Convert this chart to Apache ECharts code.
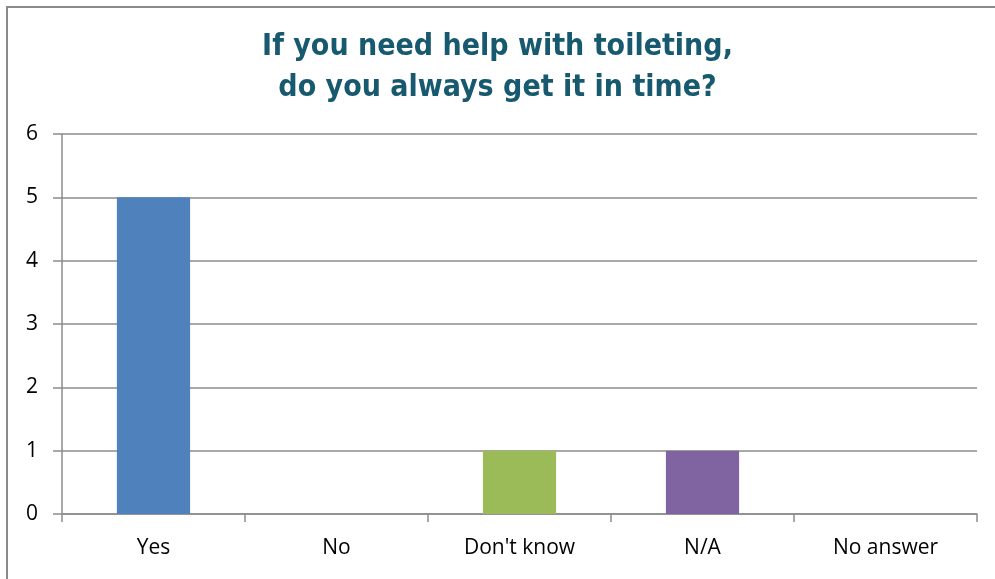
<!DOCTYPE html>
<html>
<head>
<meta charset="utf-8">
<script src="https://cdn.jsdelivr.net/npm/echarts@6/dist/echarts.min.js"></script>
<style>
  html, body { margin: 0; padding: 0; background: #ffffff; }
  #chart { width: 995px; height: 579px; }
</style>
</head>
<body>
<div id="chart"></div>
<script>
// Survey answers: counts of respondents per answer
const categories = ['Yes', 'No', "Don't know", 'N/A', 'No answer'];
const counts = [5, 0, 1, 1, 0];
const barColors = ['#4F81BD', '#C0504D', '#9BBB59', '#8064A2', '#4BACC6'];
const yTicks = [0, 1, 2, 3, 4, 5, 6];

const chart = echarts.init(document.getElementById('chart'), null, { renderer: 'canvas' });

const labelFont = '"Open Sans", "Liberation Sans", sans-serif';

chart.setOption({
  backgroundColor: '#ffffff',
  animation: false,
  title: {
    text: 'If you need help with toileting,\ndo you always get it in time?',
    left: 'center',
    top: 22,
    textStyle: {
      color: '#17596F',
      fontFamily: '"DejaVu Sans Condensed", "DejaVu Sans", sans-serif',
      fontWeight: 'bold',
      fontSize: 30,
      lineHeight: 41
    }
  },
  graphic: [{
    type: 'polyline',
    shape: { points: [[7, 600], [7, 7], [1000, 7]] },
    style: { stroke: '#8a8a8a', lineWidth: 2, fill: null },
    silent: true
  }],
  grid: { left: 62, right: 18, top: 134, bottom: 65, containLabel: false },
  xAxis: {
    type: 'category',
    data: categories,
    boundaryGap: true,
    axisLine: { show: true, lineStyle: { color: '#8c8c8c', width: 1.5 } },
    axisTick: { show: true, length: 8, alignWithLabel: false, lineStyle: { color: '#8c8c8c', width: 1.5 } },
    axisLabel: { color: '#000000', fontSize: 21, fontFamily: labelFont, margin: 24 },
    splitLine: { show: false }
  },
  yAxis: {
    type: 'value',
    min: yTicks[0],
    max: yTicks[yTicks.length - 1],
    interval: 1,
    axisLine: { show: true, lineStyle: { color: '#8c8c8c', width: 1.5 } },
    axisTick: { show: true, length: 9, lineStyle: { color: '#8c8c8c', width: 1.5 } },
    axisLabel: { color: '#000000', fontSize: 21, fontFamily: labelFont, margin: 24 },
    splitLine: { show: true, lineStyle: { color: '#8c8c8c', width: 1.5 } }
  },
  series: [{
    type: 'bar',
    barWidth: '40%',
    data: counts.map((v, i) => ({ value: v, itemStyle: { color: barColors[i] } })),
    z: 3
  }]
});
</script>
</body>
</html>
